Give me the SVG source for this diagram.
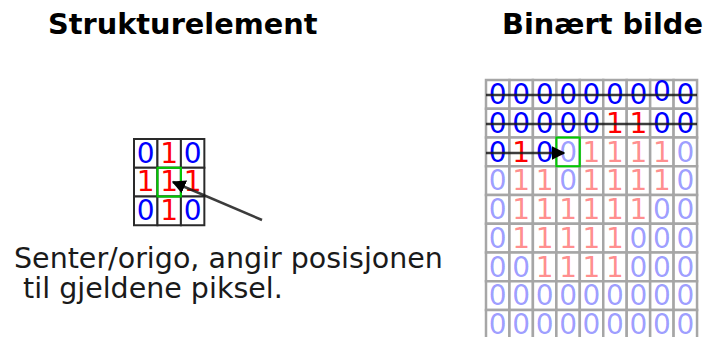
<svg xmlns="http://www.w3.org/2000/svg" width="704" height="337" viewBox="0 0 704 337">
<defs>
<style>
.title{font-family:"DejaVu Sans",sans-serif;font-weight:bold;font-size:28.8px;fill:#000}
.body{font-family:"DejaVu Sans",sans-serif;font-size:28.5px;fill:#1a1a1a}
.d{font-family:"DejaVu Sans",sans-serif;font-size:28px;text-anchor:middle}
.b{fill:#0000ff}
.r{fill:#ff0000}
.lb{fill:#0000ff;fill-opacity:0.4}
.lr{fill:#ff0000;fill-opacity:0.45}
.cell{fill:#fff;stroke:#a6a6a6;stroke-width:2.5}
.scell{fill:#fff;stroke:#2a2a2a;stroke-width:2}
.green{fill:none;stroke:#00cc00;stroke-width:2}
.ln{stroke:#1a1a1a;stroke-width:2.5;fill:none;stroke-opacity:0.85}
</style>
<rect id="c" class="cell" width="23.45" height="28.75"/>
<rect id="s" class="scell" width="23.45" height="28.75"/>
<marker id="ah" viewBox="0 0 10 10" refX="9" refY="5" markerWidth="5.5" markerHeight="5.5" orient="auto" markerUnits="strokeWidth">
<path d="M0,0 L10,5 L0,10 z" fill="#000"/>
</marker>
</defs>
<rect width="704" height="337" fill="#fff"/>
<text class="title" x="48" y="34">Strukturelement</text>
<text class="title" x="502" y="34">Binært bilde</text>
<text id="label" class="body" x="14" y="268">Senter/origo, angir posisjonen</text>
<text class="body" x="14" y="298" xml:space="preserve"> til gjeldene piksel.</text>

<g id="strukturelement">
<g>
<use href="#s" x="134" y="139"/><use href="#s" x="157.45" y="139"/><use href="#s" x="180.9" y="139"/>
<use href="#s" x="134" y="167.75"/><use href="#s" x="157.45" y="167.75"/><use href="#s" x="180.9" y="167.75"/>
<use href="#s" x="134" y="196.5"/><use href="#s" x="157.45" y="196.5"/><use href="#s" x="180.9" y="196.5"/>
</g>
<g class="d">
<text class="b" x="145.7" y="162.5">0</text><text class="r" x="169.2" y="162.5">1</text><text class="b" x="192.6" y="162.5">0</text>
<text class="r" x="145.7" y="191.3">1</text><text class="r" x="169.2" y="191.3">1</text><text class="r" x="192.6" y="191.3">1</text>
<text class="b" x="145.7" y="220">0</text><text class="r" x="169.2" y="220">1</text><text class="b" x="192.6" y="220">0</text>
</g>
<rect class="green" x="157.45" y="167.75" width="23.45" height="28.75"/>
</g>

<g id="binaert-bilde">
<g id="cells">
<use href="#c" x="486" y="80"/><use href="#c" x="509.45" y="80"/><use href="#c" x="532.9" y="80"/><use href="#c" x="556.35" y="80"/><use href="#c" x="579.8" y="80"/><use href="#c" x="603.25" y="80"/><use href="#c" x="626.7" y="80"/><use href="#c" x="650.15" y="80"/><use href="#c" x="673.6" y="80"/>
<use href="#c" x="486" y="108.75"/><use href="#c" x="509.45" y="108.75"/><use href="#c" x="532.9" y="108.75"/><use href="#c" x="556.35" y="108.75"/><use href="#c" x="579.8" y="108.75"/><use href="#c" x="603.25" y="108.75"/><use href="#c" x="626.7" y="108.75"/><use href="#c" x="650.15" y="108.75"/><use href="#c" x="673.6" y="108.75"/>
<use href="#c" x="486" y="137.5"/><use href="#c" x="509.45" y="137.5"/><use href="#c" x="532.9" y="137.5"/><use href="#c" x="556.35" y="137.5"/><use href="#c" x="579.8" y="137.5"/><use href="#c" x="603.25" y="137.5"/><use href="#c" x="626.7" y="137.5"/><use href="#c" x="650.15" y="137.5"/><use href="#c" x="673.6" y="137.5"/>
<use href="#c" x="486" y="166.25"/><use href="#c" x="509.45" y="166.25"/><use href="#c" x="532.9" y="166.25"/><use href="#c" x="556.35" y="166.25"/><use href="#c" x="579.8" y="166.25"/><use href="#c" x="603.25" y="166.25"/><use href="#c" x="626.7" y="166.25"/><use href="#c" x="650.15" y="166.25"/><use href="#c" x="673.6" y="166.25"/>
<use href="#c" x="486" y="195"/><use href="#c" x="509.45" y="195"/><use href="#c" x="532.9" y="195"/><use href="#c" x="556.35" y="195"/><use href="#c" x="579.8" y="195"/><use href="#c" x="603.25" y="195"/><use href="#c" x="626.7" y="195"/><use href="#c" x="650.15" y="195"/><use href="#c" x="673.6" y="195"/>
<use href="#c" x="486" y="223.75"/><use href="#c" x="509.45" y="223.75"/><use href="#c" x="532.9" y="223.75"/><use href="#c" x="556.35" y="223.75"/><use href="#c" x="579.8" y="223.75"/><use href="#c" x="603.25" y="223.75"/><use href="#c" x="626.7" y="223.75"/><use href="#c" x="650.15" y="223.75"/><use href="#c" x="673.6" y="223.75"/>
<use href="#c" x="486" y="252.5"/><use href="#c" x="509.45" y="252.5"/><use href="#c" x="532.9" y="252.5"/><use href="#c" x="556.35" y="252.5"/><use href="#c" x="579.8" y="252.5"/><use href="#c" x="603.25" y="252.5"/><use href="#c" x="626.7" y="252.5"/><use href="#c" x="650.15" y="252.5"/><use href="#c" x="673.6" y="252.5"/>
<use href="#c" x="486" y="281.25"/><use href="#c" x="509.45" y="281.25"/><use href="#c" x="532.9" y="281.25"/><use href="#c" x="556.35" y="281.25"/><use href="#c" x="579.8" y="281.25"/><use href="#c" x="603.25" y="281.25"/><use href="#c" x="626.7" y="281.25"/><use href="#c" x="650.15" y="281.25"/><use href="#c" x="673.6" y="281.25"/>
<use href="#c" x="486" y="310"/><use href="#c" x="509.45" y="310"/><use href="#c" x="532.9" y="310"/><use href="#c" x="556.35" y="310"/><use href="#c" x="579.8" y="310"/><use href="#c" x="603.25" y="310"/><use href="#c" x="626.7" y="310"/><use href="#c" x="650.15" y="310"/><use href="#c" x="673.6" y="310"/>
</g>
<g class="d">
<text class="b" x="497.7" y="104">0</text><text class="b" x="521.2" y="104">0</text><text class="b" x="544.6" y="104">0</text><text class="b" x="568.1" y="104">0</text><text class="b" x="591.5" y="104">0</text><text class="b" x="615" y="104">0</text><text class="b" x="638.4" y="104">0</text><text class="b" x="661.9" y="101">0</text><text class="b" x="685.3" y="104">0</text>
<text class="b" x="497.7" y="132.75">0</text><text class="b" x="521.2" y="132.75">0</text><text class="b" x="544.6" y="132.75">0</text><text class="b" x="568.1" y="132.75">0</text><text class="b" x="591.5" y="132.75">0</text><text class="r" x="615" y="132.75">1</text><text class="r" x="638.4" y="132.75">1</text><text class="b" x="661.9" y="132.75">0</text><text class="b" x="685.3" y="132.75">0</text>
<text class="b" x="497.7" y="161.5">0</text><text class="r" x="521.2" y="161.5">1</text><text class="b" x="544.6" y="161.5">0</text><text class="lb" x="568.1" y="161.5">0</text><text class="lr" x="591.5" y="161.5">1</text><text class="lr" x="615" y="161.5">1</text><text class="lr" x="638.4" y="161.5">1</text><text class="lr" x="661.9" y="161.5">1</text><text class="lb" x="685.3" y="161.5">0</text>
<text class="lb" x="497.7" y="190.25">0</text><text class="lr" x="521.2" y="190.25">1</text><text class="lr" x="544.6" y="190.25">1</text><text class="lb" x="568.1" y="190.25">0</text><text class="lr" x="591.5" y="190.25">1</text><text class="lr" x="615" y="190.25">1</text><text class="lr" x="638.4" y="190.25">1</text><text class="lr" x="661.9" y="190.25">1</text><text class="lb" x="685.3" y="190.25">0</text>
<text class="lb" x="497.7" y="219">0</text><text class="lr" x="521.2" y="219">1</text><text class="lr" x="544.6" y="219">1</text><text class="lr" x="568.1" y="219">1</text><text class="lr" x="591.5" y="219">1</text><text class="lr" x="615" y="219">1</text><text class="lr" x="638.4" y="219">1</text><text class="lb" x="661.9" y="219">0</text><text class="lb" x="685.3" y="219">0</text>
<text class="lb" x="497.7" y="247.75">0</text><text class="lr" x="521.2" y="247.75">1</text><text class="lr" x="544.6" y="247.75">1</text><text class="lr" x="568.1" y="247.75">1</text><text class="lr" x="591.5" y="247.75">1</text><text class="lr" x="615" y="247.75">1</text><text class="lb" x="638.4" y="247.75">0</text><text class="lb" x="661.9" y="247.75">0</text><text class="lb" x="685.3" y="247.75">0</text>
<text class="lb" x="497.7" y="276.5">0</text><text class="lb" x="521.2" y="276.5">0</text><text class="lr" x="544.6" y="276.5">1</text><text class="lr" x="568.1" y="276.5">1</text><text class="lr" x="591.5" y="276.5">1</text><text class="lr" x="615" y="276.5">1</text><text class="lb" x="638.4" y="276.5">0</text><text class="lb" x="661.9" y="276.5">0</text><text class="lb" x="685.3" y="276.5">0</text>
<text class="lb" x="497.7" y="305.25">0</text><text class="lb" x="521.2" y="305.25">0</text><text class="lb" x="544.6" y="305.25">0</text><text class="lb" x="568.1" y="305.25">0</text><text class="lb" x="591.5" y="305.25">0</text><text class="lb" x="615" y="305.25">0</text><text class="lb" x="638.4" y="305.25">0</text><text class="lb" x="661.9" y="305.25">0</text><text class="lb" x="685.3" y="305.25">0</text>
<text class="lb" x="497.7" y="333.5">0</text><text class="lb" x="521.2" y="333.5">0</text><text class="lb" x="544.6" y="333.5">0</text><text class="lb" x="568.1" y="333.5">0</text><text class="lb" x="591.5" y="333.5">0</text><text class="lb" x="615" y="333.5">0</text><text class="lb" x="638.4" y="333.5">0</text><text class="lb" x="661.9" y="333.5">0</text><text class="lb" x="685.3" y="333.5">0</text>
</g>
<rect class="green" x="556.35" y="137.5" width="23.45" height="28.75"/>
</g>

<g id="connectors">
<line class="ln" x1="262" y1="220" x2="173" y2="182" marker-end="url(#ah)"/>
<line class="ln" x1="486" y1="95" x2="697" y2="95"/>
<line class="ln" x1="486" y1="124" x2="697" y2="124"/>
<line class="ln" x1="486" y1="153" x2="564" y2="153" marker-end="url(#ah)"/>
</g>
</svg>
